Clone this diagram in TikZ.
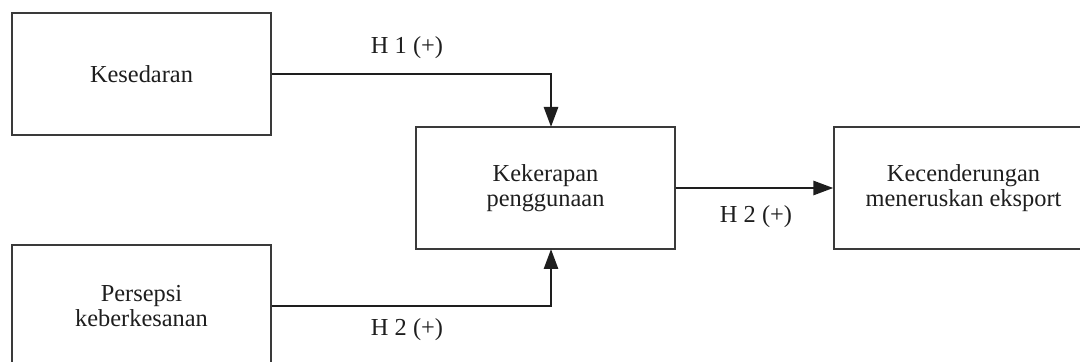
\documentclass[tikz,border=0pt]{standalone}
\usepackage{fontspec}
\setmainfont{Liberation Serif}
\usetikzlibrary{arrows.meta}
\definecolor{boxline}{HTML}{3A3A3A}
\definecolor{inkdark}{HTML}{1E1E1E}

\begin{document}
\begin{tikzpicture}[x=0.5pt, y=-0.5pt, >={Triangle[length=10pt, width=7pt]}, line width=1.4pt]

\useasboundingbox (0,0) rectangle (1080,362);
\clip (0,0) rectangle (1080,362);

\tikzstyle{every node}=[rectangle, draw=boxline, line width=0.65pt, minimum width=129.5pt, minimum height=61pt, align=center, text=inkdark, font=\fontsize{12.2}{12.6}\selectfont, inner sep=0pt]
\draw    (141.5, 74)  node (kes) {Kesedaran}
         (141.5, 306) node (per) {Persepsi\\keberkesanan}
         (545.5, 188) node (kek) {Kekerapan\\penggunaan}
         (963.5, 188) node (kec) {Kecenderungan\\meneruskan eksport};

\tikzstyle{every node}=[text=inkdark, font=\fontsize{12.2}{12.6}\selectfont, inner sep=0pt]
\draw    (407, 48)  node (h1) {H 1 (+)}
         (756, 217) node (h2) {H 2 (+)}
         (407, 330) node (h2b) {H 2 (+)};

\coordinate (in1) at (551, 127);
\coordinate (in2) at (551, 249);

\draw [->, draw=inkdark] (kes.east) -| (in1);
\draw [->, draw=inkdark] (per.east) -| (in2);
\draw [->, draw=inkdark] (kek.east) -- (kec.west);

\end{tikzpicture}
\end{document}
